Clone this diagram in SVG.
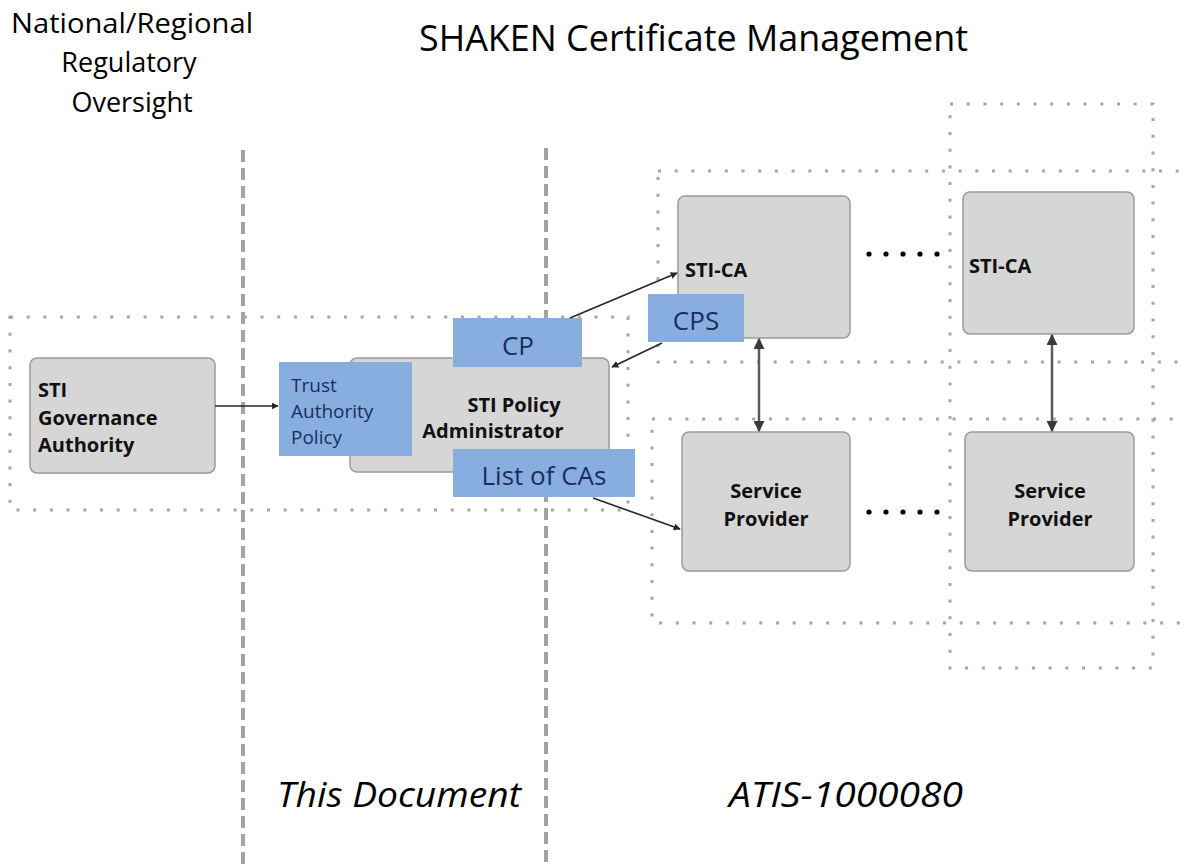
<svg xmlns="http://www.w3.org/2000/svg" width="1184" height="866" viewBox="0 0 1184 866">
<defs>
<style>
.bg{fill:#ffffff}
.dash{stroke:#a3a3a3;stroke-width:4;stroke-dasharray:12 6;fill:none}
.dot{stroke:#a6a6a6;stroke-width:3;stroke-dasharray:3 13.7;fill:none}
.box{fill:#d6d6d6;stroke:#9a9a9a;stroke-width:1.5}
.blue{fill:#88aee0}
.lbl{font-family:"Open Sans","Noto Sans",sans-serif;fill:#000}
.bold{font-family:"Open Sans","Noto Sans",sans-serif;font-weight:bold;font-size:20px;fill:#111}
.btxt{font-family:"Open Sans","Noto Sans",sans-serif;fill:#1a2e5c}
.arr{stroke:#262626;stroke-width:1.6;fill:none;marker-end:url(#ah)}
.dbl{stroke:#5a5a5a;stroke-width:2.5;fill:none;marker-start:url(#ah2s);marker-end:url(#ah2)}
.ell{fill:#000}
</style>
<marker id="ah" viewBox="0 0 10 10" refX="9" refY="5" markerWidth="7" markerHeight="7" orient="auto" markerUnits="userSpaceOnUse">
<path d="M0,0 L10,5 L0,10 z" fill="#262626"/>
</marker>
<marker id="ah2" viewBox="0 0 10 10" refX="9" refY="5" markerWidth="11" markerHeight="11" orient="auto" markerUnits="userSpaceOnUse">
<path d="M0,0 L10,5 L0,10 z" fill="#3a3a3a"/>
</marker>
<marker id="ah2s" viewBox="0 0 10 10" refX="1" refY="5" markerWidth="11" markerHeight="11" orient="auto" markerUnits="userSpaceOnUse">
<path d="M10,0 L0,5 L10,10 z" fill="#3a3a3a"/>
</marker>
</defs>
<rect class="bg" x="0" y="0" width="1184" height="866"/>

<g id="headings">
<text class="lbl" font-size="27" text-anchor="middle" x="132" y="33" textLength="242" lengthAdjust="spacingAndGlyphs">National/Regional</text>
<text class="lbl" font-size="27" text-anchor="middle" x="129" y="72">Regulatory</text>
<text class="lbl" font-size="27" text-anchor="middle" x="132" y="112">Oversight</text>
<text class="lbl" font-size="36" x="419" y="51" textLength="549" lengthAdjust="spacingAndGlyphs">SHAKEN Certificate Management</text>
<text class="lbl" font-size="34" font-style="italic" x="277" y="807" textLength="244" lengthAdjust="spacingAndGlyphs">This Document</text>
<text class="lbl" font-size="34" font-style="italic" x="729" y="807" textLength="234" lengthAdjust="spacingAndGlyphs">ATIS-1000080</text>
</g>

<g id="boundaries">
<line class="dash" x1="243" y1="150" x2="243" y2="866"/>
<line class="dash" x1="546" y1="148" x2="546" y2="866"/>
</g>

<g id="groupings">
<rect class="dot" x="10" y="317" width="618" height="193"/>
<rect class="dot" x="658" y="171" width="540" height="191"/>
<rect class="dot" x="652" y="419" width="546" height="204"/>
<rect class="dot" x="950" y="104" width="203" height="564"/>
</g>

<g id="node-governance">
<rect class="box" x="30" y="358" width="185" height="115" rx="7"/>
<text class="bold" x="38" y="397">STI</text>
<text class="bold" x="38" y="425">Governance</text>
<text class="bold" x="38" y="452">Authority</text>
</g>

<g id="node-policy-admin">
<rect class="box" x="350" y="358" width="259" height="114" rx="7"/>
<text class="bold" text-anchor="middle" x="514" y="412">STI Policy</text>
<text class="bold" text-anchor="middle" x="493" y="438">Administrator</text>
</g>

<g id="node-trust-policy">
<rect class="blue" x="279" y="362" width="133" height="94"/>
<text class="btxt" font-size="19" x="291" y="392">Trust</text>
<text class="btxt" font-size="19" x="291" y="418">Authority</text>
<text class="btxt" font-size="19" x="291" y="444">Policy</text>
</g>

<g id="node-cp">
<rect class="blue" x="453" y="318" width="129" height="49"/>
<text class="btxt" font-size="26" text-anchor="middle" x="518" y="355">CP</text>
</g>

<g id="node-list">
<rect class="blue" x="453" y="449" width="182" height="48"/>
<text class="btxt" font-size="26" text-anchor="middle" x="544" y="485">List of CAs</text>
</g>

<g id="node-stica-1">
<rect class="box" x="678" y="196" width="172" height="142" rx="7"/>
<text class="bold" x="685" y="277">STI-CA</text>
</g>

<g id="node-cps">
<rect class="blue" x="648" y="294" width="96" height="48"/>
<text class="btxt" font-size="26" text-anchor="middle" x="696" y="330">CPS</text>
</g>

<g id="node-stica-2">
<rect class="box" x="963" y="192" width="171" height="142" rx="7"/>
<text class="bold" x="969" y="273">STI-CA</text>
</g>

<g id="node-sp-1">
<rect class="box" x="682" y="432" width="168" height="139" rx="7"/>
<text class="bold" text-anchor="middle" x="766" y="498">Service</text>
<text class="bold" text-anchor="middle" x="766" y="526">Provider</text>
</g>

<g id="node-sp-2">
<rect class="box" x="965" y="432" width="169" height="139" rx="7"/>
<text class="bold" text-anchor="middle" x="1050" y="498">Service</text>
<text class="bold" text-anchor="middle" x="1050" y="526">Provider</text>
</g>

<g id="ellipses">
<circle class="ell" cx="869" cy="254" r="2.6"/>
<circle class="ell" cx="886" cy="254" r="2.6"/>
<circle class="ell" cx="903" cy="254" r="2.6"/>
<circle class="ell" cx="920" cy="254" r="2.6"/>
<circle class="ell" cx="937" cy="254" r="2.6"/>
<circle class="ell" cx="869" cy="512" r="2.6"/>
<circle class="ell" cx="886" cy="512" r="2.6"/>
<circle class="ell" cx="903" cy="512" r="2.6"/>
<circle class="ell" cx="920" cy="512" r="2.6"/>
<circle class="ell" cx="937" cy="512" r="2.6"/>
</g>

<g id="connectors">
<line class="arr" x1="215" y1="406" x2="278" y2="406"/>
<line class="arr" x1="570" y1="318" x2="677" y2="273"/>
<line class="arr" x1="662" y1="343" x2="612" y2="367"/>
<line class="arr" x1="593" y1="498" x2="680" y2="529"/>
<line class="dbl" x1="759" y1="339" x2="759" y2="431"/>
<line class="dbl" x1="1052" y1="335" x2="1052" y2="431"/>
</g>
</svg>
